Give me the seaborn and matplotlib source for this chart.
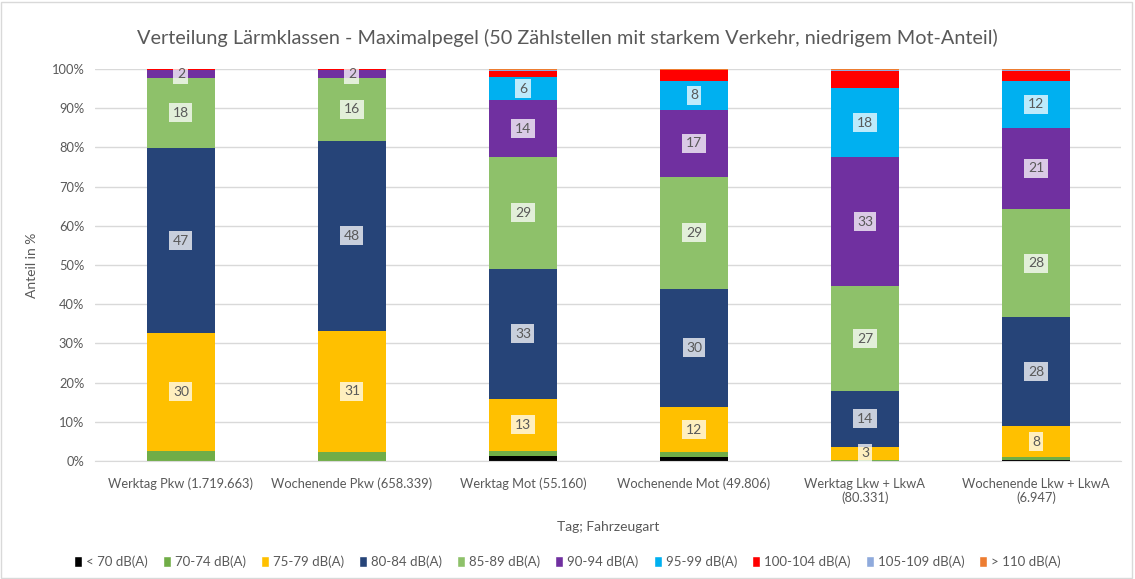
import numpy as np
import pandas as pd
import matplotlib
matplotlib.use("Agg")
import matplotlib.pyplot as plt
import seaborn as sns
from matplotlib.patches import Patch, Rectangle

categories = ["Werktag Pkw (1.719.663)", "Wochenende Pkw (658.339)", "Werktag Mot (55.160)",
              "Wochenende Mot (49.806)", "Werktag Lkw + LkwA\n(80.331)", "Wochenende Lkw + LkwA\n(6.947)"]
classes = ["< 70 dB(A)", "70-74 dB(A)", "75-79 dB(A)", "80-84 dB(A)", "85-89 dB(A)",
           "90-94 dB(A)", "95-99 dB(A)", "100-104 dB(A)", "105-109 dB(A)", "> 110 dB(A)"]

# percentages per class, one value per category
lt70     = [0.05, 0.05, 1.2, 1.0, 0.05, 0.3]
db70_74  = [2.6, 2.3, 1.3, 1.2, 0.3, 0.6]
db75_79  = [30.0, 30.9, 13.4, 11.6, 3.3, 8.0]
db80_84  = [47.2, 48.4, 33.1, 30.1, 14.3, 27.8]
db85_89  = [17.9, 16.1, 28.6, 28.6, 26.6, 27.6]
db90_94  = [1.9, 1.9, 14.4, 17.0, 32.9, 20.7]
db95_99  = [0.2, 0.2, 5.9, 7.5, 17.8, 12.0]
db100_104 = [0.05, 0.05, 1.7, 2.7, 4.2, 2.5]
db105_109 = [0.0, 0.0, 0.1, 0.1, 0.3, 0.2]
gt110    = [0.1, 0.1, 0.3, 0.2, 0.25, 0.3]

series = [lt70, db70_74, db75_79, db80_84, db85_89, db90_94, db95_99, db100_104, db105_109, gt110]
colors = ["#000000", "#70AD47", "#FFC000", "#264478", "#8EC16A",
          "#7030A0", "#00B0F0", "#FF0000", "#8FAADC", "#ED7D31"]
labelled = {"75-79 dB(A)", "80-84 dB(A)", "85-89 dB(A)", "90-94 dB(A)", "95-99 dB(A)"}

sns.set_style("white")
plt.rcParams["font.family"] = ["Lato", "DejaVu Sans"]
txt = "#595959"

fig = plt.figure(figsize=(11.35, 5.79), dpi=100)
fig.patches.append(Rectangle((0.001, 0.002), 0.996, 0.995, transform=fig.transFigure,
                             fill=False, edgecolor="#D9D9D9", linewidth=1))
ax = fig.add_axes([0.0841, 0.2038, 0.904, 0.677])

bottom = np.zeros(len(categories))
for name, vals, col in zip(classes, series, colors):
    df = pd.DataFrame({"cat": categories, "val": vals})
    sns.barplot(data=df, x="cat", y="val", color=col, width=0.4, bottom=bottom,
                saturation=1, ax=ax, linewidth=0, err_kws={"linewidth": 0})
    if name in labelled:
        for i, v in enumerate(vals):
            if round(v) >= 1:
                ax.text(i, bottom[i] + v / 2, f"{round(v)}", ha="center", va="center",
                        fontsize=10, color=txt,
                        bbox=dict(boxstyle="square,pad=0.25", facecolor="white",
                                  alpha=0.75, edgecolor="none"))
    bottom += np.array(vals)

ax.set_xlim(-0.5, len(categories) - 0.5)
ax.set_ylim(0, 100)
ax.set_yticks(range(0, 101, 10))
ax.set_yticklabels([f"{t}%" for t in range(0, 101, 10)])
ax.yaxis.grid(True, color="#D9D9D9", linewidth=1)
ax.set_axisbelow(True)
for s in ["top", "right", "left"]:
    ax.spines[s].set_visible(False)
ax.spines["bottom"].set_color("#D9D9D9")
ax.tick_params(axis="both", labelsize=9.3, colors=txt, length=0)
ax.tick_params(axis="x", pad=12)
ax.tick_params(axis="y", pad=8)
ax.set_xlabel("Tag; Fahrzeugart", fontsize=10, color=txt, labelpad=12)
ax.set_ylabel("Anteil in %", fontsize=10, color=txt, labelpad=10)
fig.text(0.5, 0.935, "Verteilung Lärmklassen - Maximalpegel (50 Zählstellen mit starkem Verkehr, niedrigem Mot-Anteil)",
         ha="center", va="center", fontsize=14.3, color=txt)

handles = [Patch(facecolor=c, label=n) for n, c in zip(classes, colors)]
fig.legend(handles=handles, loc="center", bbox_to_anchor=(0.5, 0.029), ncol=10, frameon=False,
           fontsize=9.5, handlelength=0.6, handleheight=0.9, handletextpad=0.3, columnspacing=1.15,
           labelcolor=txt)

fig.savefig("out.png", dpi=100)
